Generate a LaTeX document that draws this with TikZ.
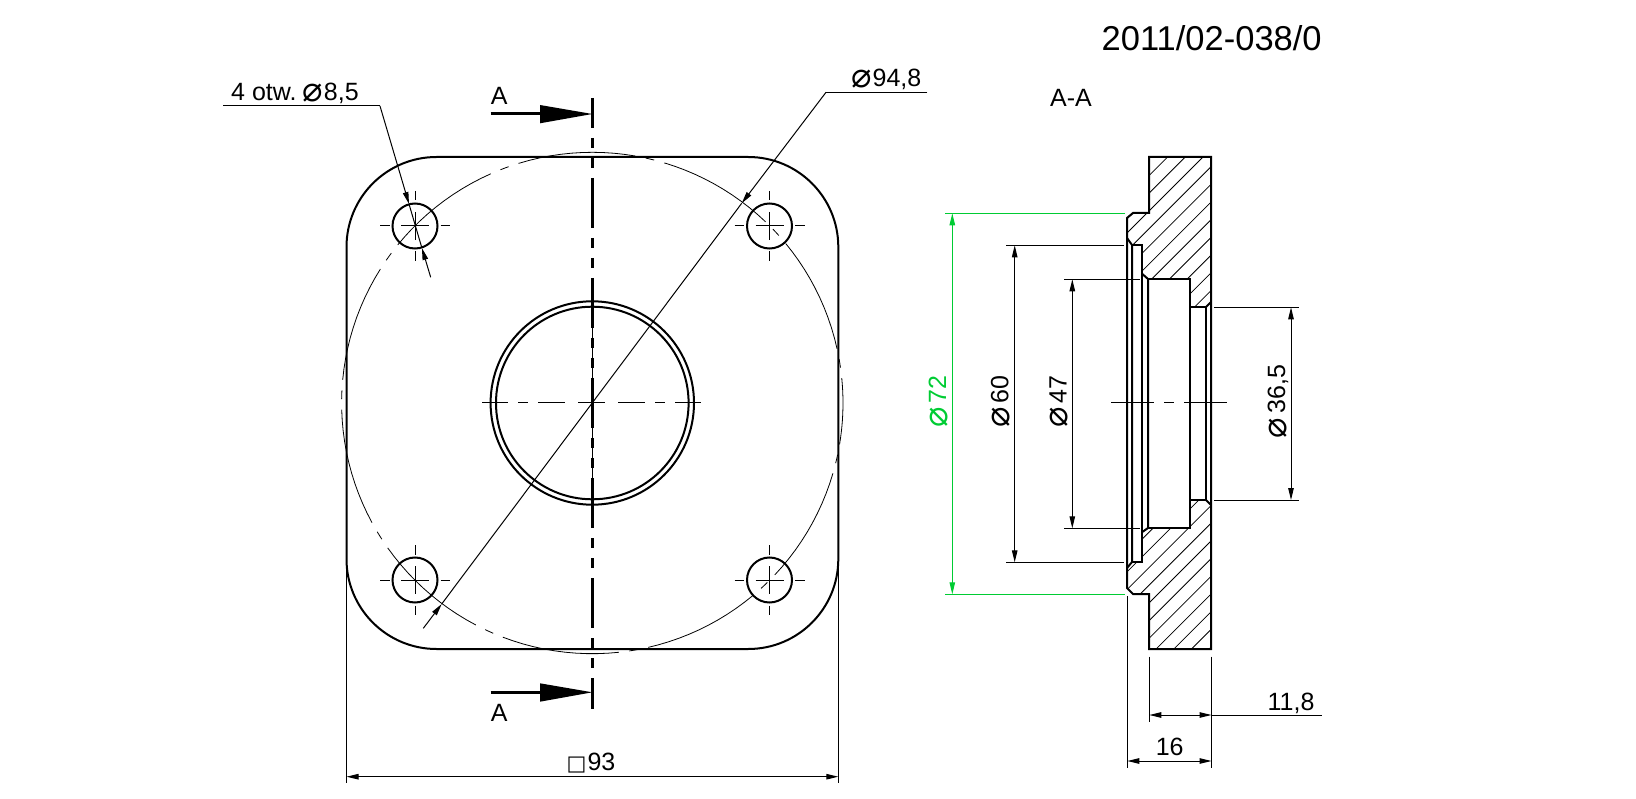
\documentclass[tikz,border=0pt]{standalone}
\usepackage{fontspec}
\setmainfont{Liberation Sans}
\newfontfamily\symfont{DejaVu Sans}
\newcommand{\diam}{\raisebox{-1pt}{\symfont\fontsize{34}{34}\selectfont\char"2300}}
\newcommand{\sqbox}{{\symfont\fontsize{21}{21}\selectfont\char"25A1\kern1pt}}
\usetikzlibrary{arrows.meta}
\definecolor{dimgreen}{RGB}{0,204,51}
\begin{document}
\begin{tikzpicture}[x=1pt,y=-1pt,
  outline/.style={line width=2pt,line join=miter},
  thinline/.style={line width=1pt},
  hatchline/.style={line width=0.8pt},
  dimline/.style={line width=1pt,{Triangle[length=12pt,width=5.5pt]}-{Triangle[length=12pt,width=5.5pt]}},
  leader/.style={line width=1pt,-{Triangle[length=12pt,width=5.5pt]}},
  cutline/.style={line width=3pt},
  note/.style={font=\fontsize{25}{25}\selectfont,inner sep=0pt,anchor=base}]
\useasboundingbox (0,0) rectangle (1636,799);
\draw[outline,rounded corners=90pt] (346.5,157) rectangle (838.3,649);
\foreach \s in {9.1,42.9,76.7,110.5,144.3,178.1,211.9,245.7,279.5,313.3,347.1}{
  \pgfmathsetmacro{\sa}{\s-1}
  \pgfmathsetmacro{\sb}{\s+1}
  \pgfmathsetmacro{\la}{\s+3.4}
  \pgfmathsetmacro{\lb}{min(\s+30.4,365.7)}
  \draw[hatchline] plot[domain=\sa:\sb,samples=3] ({592.3+250.7*cos(\x)},{403-250.7*sin(\x)});
  \draw[hatchline] plot[domain=\la:\lb,samples=12] ({592.3+250.7*cos(\x)},{403-250.7*sin(\x)});
}
\draw[outline] (592.3,403) circle[radius=101.7];
\draw[outline] (592.3,403) circle[radius=96.3];
\foreach \hx/\hy in {415/226,769.5/226,415/580,769.5/580}{
  \draw[outline] (\hx,\hy) circle[radius=22.5];
  \draw[thinline] (\hx-14,\hy)--(\hx+14,\hy);
  \draw[thinline] (\hx,\hy-14)--(\hx,\hy+14);
  \draw[thinline] (\hx-35,\hy)--(\hx-25.5,\hy);
  \draw[thinline] (\hx+25.5,\hy)--(\hx+35,\hy);
  \draw[thinline] (\hx,\hy-35)--(\hx,\hy-25.5);
  \draw[thinline] (\hx,\hy+25.5)--(\hx,\hy+35);
}
\foreach \xa/\xb in {482.3/508.3,518.3/528.3,538.3/565,578.3/605,618.3/645,655/665,675/701}{
  \draw[thinline] (\xa,403)--(\xb,403);
}
\draw[thinline] (592.3,328)--(592.3,478);
\draw[cutline,dash pattern=on 50pt off 10pt on 10pt off 10pt on 10pt off 10pt,dash phase=20pt] (592.3,98)--(592.3,709);
\draw[cutline] (490.7,114)--(540,114);
\fill (540,105)--(592.3,114)--(540,123.3)--cycle;
\draw[cutline] (490.7,692.3)--(540,692.3);
\fill (540,683.3)--(592.3,692.3)--(540,701.7)--cycle;
\node[note] (cuta) at (499.3,105) {A};
\node[note] (cutb) at (499.3,721.7) {A};
\coordinate (holetop) at (409,204);
\coordinate (holebot) at (421.9,248);
\draw[thinline] (223,106)--(380,106);
\draw[leader] (380,106)--(holetop);
\draw[thinline] (holetop)--(holebot);
\draw[leader] (430.7,277.3)--(holebot);
\node[note,anchor=base west] (holenote) at (231,100.7) {4 otw.\kern6pt\diam\kern1pt 8,5};
\coordinate (pcdtop) at (741.7,203.3);
\coordinate (pcdbot) at (441.7,604);
\draw[thinline] (927.3,92.3)--(826,92.3);
\draw[leader] (826,92.3)--(pcdtop);
\draw[thinline] (pcdtop)--(pcdbot);
\draw[leader] (423.3,628.3)--(pcdbot);
\node[note,anchor=base east] (pcdnote) at (921.5,86.7) {\diam\kern1pt 94,8};
\draw[thinline] (346.5,562)--(346.5,783);
\draw[thinline] (838.3,562)--(838.3,783);
\draw[dimline] (346.5,776.7)--(838.3,776.7);
\node[note] (widthnote) at (591,770) {\sqbox 93};
\node[note,font=\fontsize{34.5}{34.5}\selectfont] (drawingnr) at (1211.7,50.7) {2011/02-038/0};
\node[note] (sectionname) at (1071,106.7) {A-A};
\begin{scope}
\clip (1149,157)--(1211,157)--(1211,302)--(1206,307)--(1190,307)--(1190,279)--(1148,279)--(1142.3,274)--(1142.3,245)--(1132,245)--(1127,238)--(1127,218)--(1133,213)--(1149,213)--cycle;
\foreach \k in {-3,...,8}{
  \draw[hatchline] (1120,1377.7+17.7*\k-1120)--(1220,1377.7+17.7*\k-1220);
}
\end{scope}
\begin{scope}
\clip (1149,649)--(1211,649)--(1211,505)--(1206,500)--(1190,500)--(1190,528)--(1148,528)--(1142.3,532)--(1142.3,562)--(1132,562)--(1127,568)--(1127,588)--(1133,594)--(1149,594)--cycle;
\foreach \k in {-4,...,8}{
  \draw[hatchline] (1120,1734.3+17.7*\k-1120)--(1220,1734.3+17.7*\k-1220);
}
\end{scope}
\draw[outline] (1149,157)--(1211,157)--(1211,649)--(1149,649)--(1149,594)--(1133,594)--(1127,588)--(1127,218)--(1133,213)--(1149,213)--cycle;
\draw[outline] (1127,238)--(1132,245)--(1132,562)--(1127,568);
\draw[outline] (1132,245)--(1142.3,245)--(1142.3,562)--(1132,562);
\draw[outline] (1142.3,274)--(1148,279)--(1148,528)--(1142.3,532);
\draw[outline] (1148,279)--(1190,279)--(1190,528)--(1148,528);
\draw[outline] (1190,307)--(1206,307)--(1206,500)--(1190,500);
\draw[outline] (1206,307)--(1211,302);
\draw[outline] (1206,500)--(1211,505);
\foreach \xa/\xb in {1111/1154,1164/1174,1184/1226.7}{
  \draw[thinline] (\xa,403)--(\xb,403);
}
\draw[thinline,dimgreen] (945,213.3)--(1125,213.3);
\draw[thinline,dimgreen] (945,594.3)--(1125,594.3);
\draw[dimline,dimgreen] (952.3,213.3)--(952.3,594.3);
\node[note,rotate=90,text=dimgreen] (dia72) at (946,401.5) {\diam\kern4pt 72};
\draw[thinline] (1006,245.3)--(1124,245.3);
\draw[thinline] (1006,562.3)--(1124,562.3);
\draw[dimline] (1014.7,245.3)--(1014.7,562.3);
\node[note,rotate=90] (dia60) at (1008.3,401.5) {\diam\kern4pt 60};
\draw[thinline] (1064,279.3)--(1140,279.3);
\draw[thinline] (1064,528.3)--(1140,528.3);
\draw[dimline] (1072.3,279.3)--(1072.3,528.3);
\node[note,rotate=90] (dia47) at (1066.7,401.5) {\diam\kern4pt 47};
\draw[thinline] (1214,307.3)--(1299,307.3);
\draw[thinline] (1214,500)--(1299,500);
\draw[dimline] (1291,307.3)--(1291,500);
\node[note,rotate=90] (dia36) at (1285,401.5) {\diam\kern4pt 36,5};
\draw[thinline] (1127.3,596)--(1127.3,768);
\draw[thinline] (1211.5,656.7)--(1211.5,768);
\draw[thinline] (1149.3,656.7)--(1149.3,722);
\draw[dimline] (1149.3,715)--(1211.5,715);
\draw[thinline] (1211.5,715)--(1321.7,715);
\node[note] (depthnote) at (1291,710) {11,8};
\draw[dimline] (1127.3,761)--(1211.5,761);
\node[note] (thicknote) at (1169.7,755.3) {16};
\end{tikzpicture}
\end{document}
